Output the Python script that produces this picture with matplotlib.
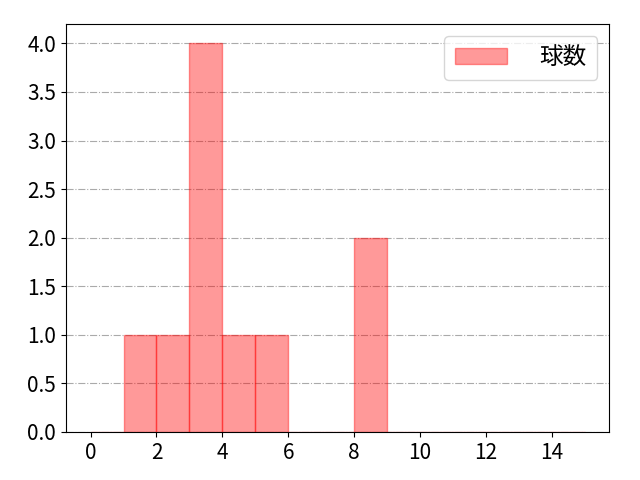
import matplotlib
matplotlib.use("Agg")
import matplotlib.pyplot as plt

plt.rcParams['font.family'] = ['Noto Sans CJK JP', 'DejaVu Sans']

# pitch-count histogram
bin_edges = list(range(0, 16))
bin_counts = [0, 1, 1, 4, 1, 1, 0, 0, 2, 0, 0, 0, 0, 0, 0]
label = "球数"

fig, ax = plt.subplots(figsize=(6.4, 4.8), dpi=100)
ax.hist(bin_edges[:-1], bins=bin_edges, weights=bin_counts,
        color='red', alpha=0.4, edgecolor='red', label=label)
ax.grid(axis='y', linestyle='-.', color='#aaaaaa', linewidth=0.8)
ax.set_axisbelow(True)
ax.set_xticks(range(0, 15, 2))
ax.tick_params(labelsize=15)
ax.legend(fontsize=17, loc='upper right', handlelength=2.2,
          handletextpad=1.4, borderpad=0.45)
fig.subplots_adjust(left=0.103, right=0.952, top=0.95, bottom=0.1)
fig.savefig("out.png")
